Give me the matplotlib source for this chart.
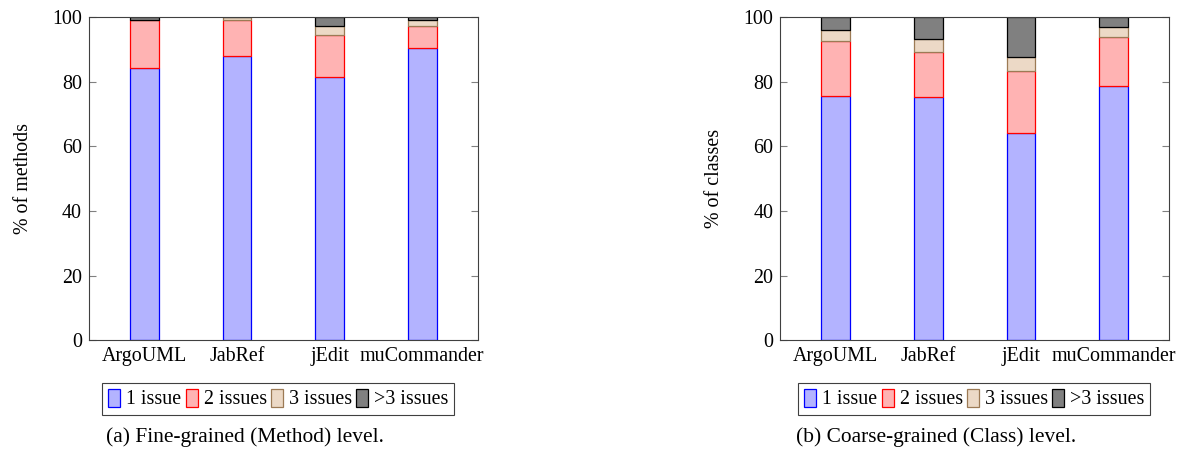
import matplotlib

matplotlib.use("Agg")
import matplotlib.pyplot as plt
import numpy as np
from matplotlib.patches import Patch

plt.rcParams["font.family"] = ["Liberation Serif", "DejaVu Serif"]
plt.rcParams["font.size"] = 14.4

projects = ["ArgoUML", "JabRef", "jEdit", "muCommander"]
series_names = ["1 issue", "2 issues", "3 issues", ">3 issues"]

# share of methods with 1 / 2 / 3 / >3 issues
method_one = [84.2, 87.8, 81.3, 90.4]
method_two = [14.8, 11.2, 13.1, 6.9]
method_three = [0.1, 0.9, 2.8, 1.8]
method_more = [0.9, 0.1, 2.8, 0.9]

# share of classes with 1 / 2 / 3 / >3 issues
class_one = [75.7, 75.3, 64.1, 78.8]
class_two = [16.8, 13.8, 19.3, 15.0]
class_three = [3.6, 4.2, 4.3, 3.0]
class_more = [3.9, 6.7, 12.3, 3.2]

fills = ["#b3b3ff", "#ffb3b3", "#ecd9c6", "#808080"]
edges = ["#0000ff", "#ff0000", "#9c7a55", "#000000"]


def stacked(ax, layers, ylabel):
    x = np.arange(len(projects))
    bottom = np.zeros(len(projects))
    for vals, fc, ec in zip(layers, fills, edges):
        ax.bar(x, vals, width=0.31, bottom=bottom, color=fc,
               edgecolor=ec, linewidth=0.9)
        bottom += np.asarray(vals)
    ax.set_xlim(-0.6, 3.6)
    ax.set_ylim(0, 100)
    ax.set_xticks(x)
    ax.set_xticklabels(projects)
    ax.set_yticks(range(0, 101, 20))
    ax.tick_params(axis="x", length=0, pad=5)
    ax.tick_params(axis="y", direction="in", length=5, color="#808080",
                   right=True, pad=5)
    for s in ax.spines.values():
        s.set_color("#404040")
        s.set_linewidth(0.8)
    ax.set_ylabel(ylabel, labelpad=14)


fig = plt.figure(figsize=(11.81, 4.58), dpi=100)
ax1 = fig.add_axes([0.0754, 0.257, 0.3291, 0.7059])
ax2 = fig.add_axes([0.6607, 0.257, 0.3291, 0.7059])

stacked(ax1, [method_one, method_two, method_three, method_more], "% of methods")
stacked(ax2, [class_one, class_two, class_three, class_more], "% of classes")

handles = [Patch(facecolor=fc, edgecolor=ec, linewidth=0.9)
           for fc, ec in zip(fills, edges)]
for cx in (0.2357, 0.825):
    leg = fig.legend(handles, series_names, loc="center",
                     bbox_to_anchor=(cx, 0.1288), ncol=4,
                     fancybox=False, edgecolor="#404040", framealpha=1,
                     handlelength=0.6, handleheight=1.0, handletextpad=0.3,
                     columnspacing=0.2, borderpad=0.3, borderaxespad=0,
                     fontsize=14.4)
    leg.get_frame().set_linewidth(0.8)

fig.text(0.0898, 0.0459, "(a) Fine-grained (Method) level.", fontsize=15.4,
         va="center")
fig.text(0.674, 0.0459, "(b) Coarse-grained (Class) level.", fontsize=15.4,
         va="center")

fig.savefig("out.png", dpi=100)
plt.close(fig)
